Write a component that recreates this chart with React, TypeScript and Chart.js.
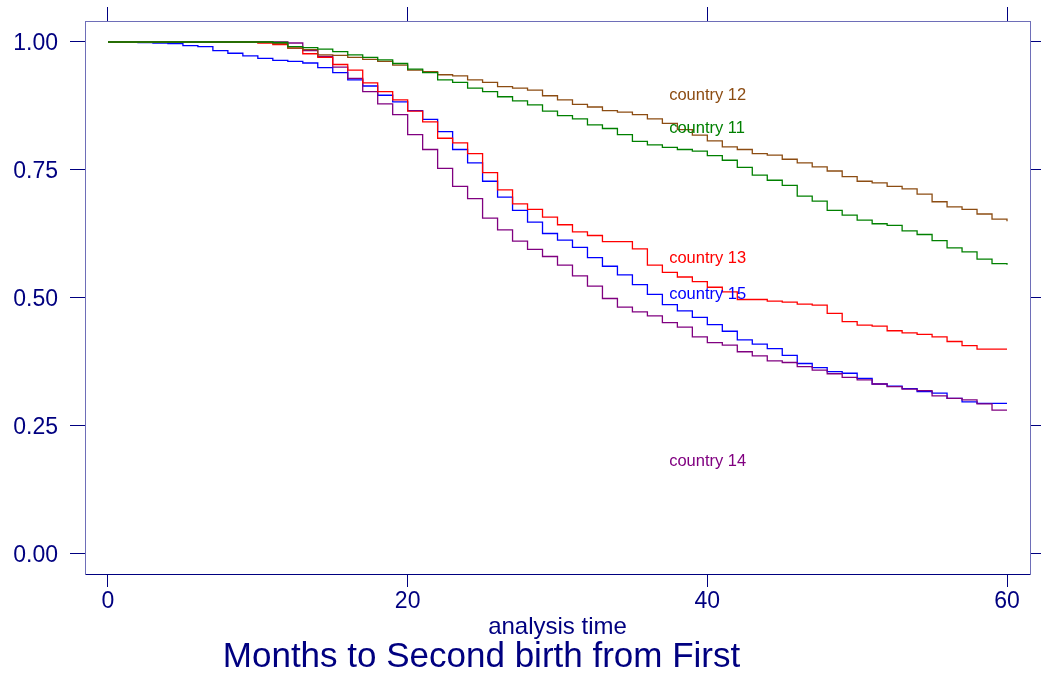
import { useEffect, useRef } from 'react';
import { Chart, registerables } from 'chart.js';

Chart.register(...registerables);

const FONT = '"Liberation Sans", Arial, Helvetica, sans-serif';
const NAVY = '#000080';
const BOX = '#6e6eb8';

const months = [
  0, 1, 2, 3, 4, 5, 6, 7, 8, 9, 10,
  11, 12, 13, 14, 15, 16, 17, 18, 19, 20,
  21, 22, 23, 24, 25, 26, 27, 28, 29, 30,
  31, 32, 33, 34, 35, 36, 37, 38, 39, 40,
  41, 42, 43, 44, 45, 46, 47, 48, 49, 50,
  51, 52, 53, 54, 55, 56, 57, 58, 59, 60,
];

const country11 = [
  1, 1, 1, 1, 1, 1, 1, 1, 1, 1, 1,
  0.999, 0.991, 0.989, 0.986, 0.981, 0.975, 0.970, 0.965, 0.958, 0.947,
  0.940, 0.926, 0.921, 0.910, 0.903, 0.893, 0.885, 0.877, 0.865, 0.856,
  0.850, 0.838, 0.831, 0.819, 0.806, 0.799, 0.794, 0.790, 0.787, 0.778,
  0.769, 0.755, 0.740, 0.730, 0.720, 0.699, 0.689, 0.671, 0.662, 0.652,
  0.645, 0.642, 0.631, 0.624, 0.612, 0.598, 0.590, 0.576, 0.567, 0.565,
];

const country12 = [
  1, 1, 1, 1, 1, 1, 1, 1, 1, 1, 1,
  0.997, 0.988, 0.985, 0.975, 0.974, 0.970, 0.966, 0.962, 0.955, 0.945,
  0.942, 0.936, 0.934, 0.926, 0.921, 0.913, 0.910, 0.906, 0.895, 0.887,
  0.878, 0.873, 0.866, 0.863, 0.858, 0.850, 0.841, 0.829, 0.818, 0.807,
  0.795, 0.790, 0.782, 0.779, 0.771, 0.764, 0.756, 0.748, 0.737, 0.728,
  0.725, 0.718, 0.713, 0.703, 0.688, 0.678, 0.673, 0.664, 0.654, 0.650,
];

const country13 = [
  1, 1, 1, 1, 1, 1, 1, 1, 1, 1, 0.998,
  0.995, 0.988, 0.977, 0.970, 0.956, 0.945, 0.920, 0.903, 0.887, 0.865,
  0.844, 0.812, 0.803, 0.782, 0.745, 0.711, 0.684, 0.673, 0.658, 0.643,
  0.629, 0.622, 0.610, 0.610, 0.596, 0.564, 0.550, 0.541, 0.532, 0.521,
  0.512, 0.497, 0.497, 0.494, 0.492, 0.488, 0.486, 0.470, 0.454, 0.447,
  0.445, 0.436, 0.432, 0.429, 0.424, 0.415, 0.407, 0.400, 0.400, 0.400,
];

const country14 = [
  1, 1, 1, 1, 1, 1, 1, 1, 1, 1, 1,
  1, 0.998, 0.983, 0.972, 0.951, 0.929, 0.903, 0.879, 0.858, 0.819,
  0.790, 0.753, 0.718, 0.694, 0.656, 0.633, 0.611, 0.595, 0.581, 0.564,
  0.543, 0.523, 0.499, 0.482, 0.473, 0.465, 0.452, 0.443, 0.424, 0.413,
  0.408, 0.395, 0.387, 0.377, 0.374, 0.366, 0.359, 0.352, 0.345, 0.340,
  0.332, 0.327, 0.322, 0.319, 0.309, 0.304, 0.301, 0.293, 0.281, 0.281,
];

const country15 = [
  1, 1, 0.999, 0.998, 0.997, 0.993, 0.991, 0.983, 0.978, 0.973, 0.968,
  0.964, 0.962, 0.959, 0.950, 0.940, 0.926, 0.914, 0.896, 0.883, 0.866,
  0.849, 0.825, 0.790, 0.764, 0.728, 0.697, 0.671, 0.648, 0.626, 0.613,
  0.599, 0.579, 0.562, 0.545, 0.526, 0.507, 0.487, 0.475, 0.462, 0.448,
  0.435, 0.418, 0.410, 0.401, 0.388, 0.372, 0.364, 0.356, 0.353, 0.343,
  0.332, 0.328, 0.323, 0.317, 0.314, 0.304, 0.297, 0.294, 0.294, 0.294,
];

const seriesNames = ['country 11', 'country 12', 'country 13', 'country 14', 'country 15'];
const seriesValues = [country11, country12, country13, country14, country15];
const seriesColors = ['#008000', '#8c4c12', '#ff0000', '#800080', '#0000ff'];

// label anchor positions (data units)
const labelX = [37.45, 37.45, 37.45, 37.45, 37.45];
const labelY = [0.823, 0.887, 0.568, 0.172, 0.498];

const xTicks = [0, 20, 40, 60];
const yTicks = [0, 0.25, 0.5, 0.75, 1];

const xTitle = 'analysis time';
const caption = 'Months to Second birth from First';

const X_MIN = -1.535;
const X_MAX = 61.535;
const Y_MIN = -0.0391;
const Y_MAX = 1.041;

const annotatePlugin = {
  id: 'annotate',
  afterDatasetsDraw(chart: any) {
    const { ctx, scales } = chart;
    ctx.save();
    ctx.font = `16.5px ${FONT}`;
    ctx.textAlign = 'left';
    ctx.textBaseline = 'alphabetic';
    seriesNames.forEach((name, i) => {
      ctx.fillStyle = seriesColors[i];
      ctx.fillText(name, scales.x.getPixelForValue(labelX[i]), scales.y.getPixelForValue(labelY[i]));
    });
    ctx.restore();
  },
  afterDraw(chart: any) {
    const { ctx } = chart;
    ctx.save();
    ctx.font = `35px ${FONT}`;
    ctx.fillStyle = NAVY;
    ctx.textAlign = 'center';
    ctx.textBaseline = 'alphabetic';
    ctx.fillText(caption, 481.5, 667);
    ctx.restore();
  },
};

const fixHeight = (h: number) => (axis: any) => {
  axis.height = h;
  axis.paddingLeft = 0;
  axis.paddingRight = 0;
  axis.paddingTop = 0;
  axis.paddingBottom = 0;
};

const fixWidth = (w: number) => (axis: any) => {
  axis.width = w;
  axis.paddingLeft = 0;
  axis.paddingRight = 0;
  axis.paddingTop = 0;
  axis.paddingBottom = 0;
};

export default function App() {
  const ref = useRef<HTMLCanvasElement>(null);

  useEffect(() => {
    document.body.style.margin = '0';
    const canvas = ref.current;
    if (!canvas) return;

    const datasets = seriesNames.map((name, i) => ({
      label: name,
      data: seriesValues[i].map((v, j) => ({ x: months[j], y: v })),
      borderColor: seriesColors[i],
      backgroundColor: seriesColors[i],
      borderWidth: 1.3,
      stepped: true as const,
      pointRadius: 0,
      fill: false,
      xAxisID: 'x',
      yAxisID: 'y',
    }));

    const chart = new Chart(canvas, {
      type: 'line',
      data: { datasets },
      options: {
        responsive: false,
        animation: false,
        devicePixelRatio: 1,
        layout: { padding: 0, autoPadding: false },
        plugins: {
          legend: { display: false },
          tooltip: { enabled: false },
          title: { display: false },
        },
        scales: {
          x: {
            type: 'linear',
            position: 'bottom',
            min: X_MIN,
            max: X_MAX,
            afterBuildTicks: (axis: any) => {
              axis.ticks = xTicks.map((v) => ({ value: v }));
            },
            afterFit: fixHeight(103),
            ticks: {
              color: NAVY,
              font: { size: 23, family: FONT },
              padding: 1,
              maxRotation: 0,
              autoSkip: false,
              callback: (v: any) => String(v),
            },
            grid: { drawOnChartArea: false, drawTicks: true, tickLength: 13, color: NAVY, lineWidth: 1 },
            border: { display: true, color: NAVY, width: 1 },
            title: {
              display: true,
              text: xTitle,
              color: NAVY,
              font: { size: 24, family: FONT },
              padding: { top: 0, bottom: 35.5 },
            },
          },
          x2: {
            type: 'linear',
            axis: 'x',
            position: 'top',
            min: X_MIN,
            max: X_MAX,
            afterBuildTicks: (axis: any) => {
              axis.ticks = xTicks.map((v) => ({ value: v }));
            },
            afterFit: fixHeight(21),
            ticks: { display: false },
            grid: { drawOnChartArea: false, drawTicks: true, tickLength: 14, color: NAVY, lineWidth: 1 },
            border: { display: true, color: BOX, width: 1 },
          },
          y: {
            type: 'linear',
            position: 'left',
            min: Y_MIN,
            max: Y_MAX,
            afterBuildTicks: (axis: any) => {
              axis.ticks = yTicks.map((v) => ({ value: v }));
            },
            afterFit: fixWidth(85),
            ticks: {
              color: NAVY,
              font: { size: 23, family: FONT },
              padding: 12,
              labelOffset: 1.5,
              autoSkip: false,
              callback: (v: any) => Number(v).toFixed(2),
            },
            grid: { drawOnChartArea: false, drawTicks: true, tickLength: 15, color: NAVY, lineWidth: 1 },
            border: { display: true, color: BOX, width: 1 },
          },
          y2: {
            type: 'linear',
            axis: 'y',
            position: 'right',
            min: Y_MIN,
            max: Y_MAX,
            afterBuildTicks: (axis: any) => {
              axis.ticks = yTicks.map((v) => ({ value: v }));
            },
            afterFit: fixWidth(11),
            ticks: { display: false },
            grid: { drawOnChartArea: false, drawTicks: true, tickLength: 11, color: NAVY, lineWidth: 1 },
            border: { display: true, color: BOX, width: 1 },
          },
        },
      } as any,
      plugins: [annotatePlugin],
    });

    return () => chart.destroy();
  }, []);

  return (
    <div style={{ width: 1041, height: 677, background: '#ffffff' }}>
      <canvas ref={ref} width={1041} height={677} style={{ display: 'block', width: 1041, height: 677 }} />
    </div>
  );
}
